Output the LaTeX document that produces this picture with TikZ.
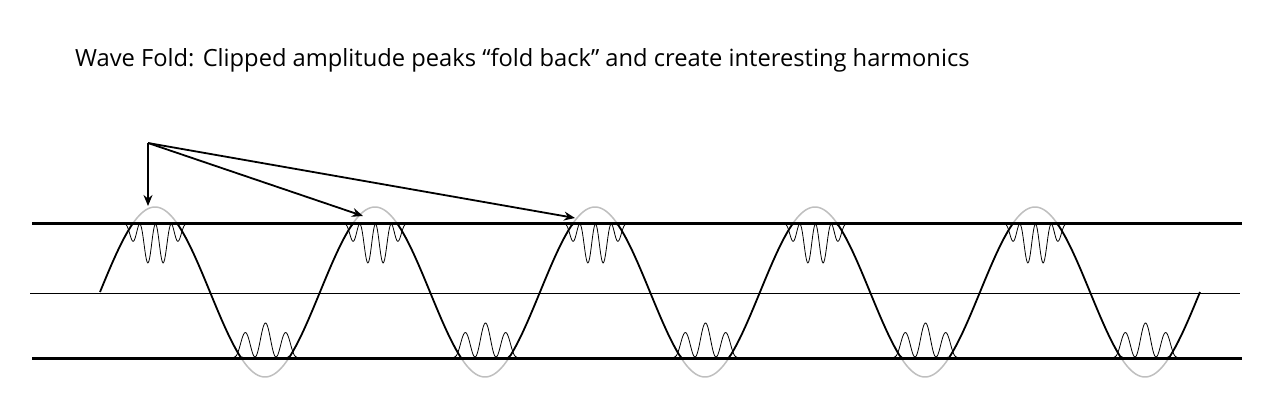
\documentclass[tikz,border=0pt]{standalone}
\usepackage{fontspec}
\setmainfont{Open Sans}
\usetikzlibrary{arrows.meta}
\tikzset{rail/.style={draw, line width=3pt},
  axis/.style={draw, line width=0.8pt},
  ghost/.style={draw, gray!50, line width=1.5pt},
  wave/.style={draw, line width=1.8pt},
  fold/.style={draw, line width=0.8pt},
  line/.style={draw, line width=1.8pt, -{Stealth[length=11pt,width=9pt]}}}
\begin{document}
\begin{tikzpicture}[x=1pt, y=-1pt]
\useasboundingbox (0,0) rectangle (1271,420);

\node [anchor=west, inner sep=0pt, font=\fontsize{23.7}{27}\selectfont](title) at (75,60){Wave Fold: Clipped amplitude peaks “fold back” and create interesting harmonics};

% ghost peaks
\foreach \k in {0,...,4}{
  \draw [ghost] plot [domain=-31:32, samples=30] ({155+220*\k+\x}, {292-85*cos(1.63636*\x)});
  \draw [ghost] plot [domain=-31:32, samples=30] ({265+220*\k+\x}, {292+85*cos(1.63636*\x)});
}

% rails
\draw [rail] (32,223) -- (1242,223);
\draw [rail] (32,358) -- (1242,358);
\draw [axis] (30,293) -- (1240,293);

% clipped wave
\draw [wave] plot [domain=0:1100, samples=400] ({100+\x}, {max(223,min(358,292-85*sin(mod(1.63636*\x,360))))});

% folds
\foreach \k in {0,...,4}{
  \draw [fold] plot [domain=0:1, samples=80] ({124+220*\k+63*\x}, {224+42*sin(180*\x)*sin(720*\x)^2});
  \draw [fold] plot [domain=0:1, samples=80] ({234+220*\k+63*\x}, {357-34*sqrt(abs(sin(180*\x)))*sin(540*\x)^2});
}

% arrows
\coordinate (src) at (148,143);
\coordinate (p1) at (148,206);
\coordinate (p2) at (363,216);
\coordinate (p3) at (575,218);
\draw [line] (src) -- (p1);
\draw [line] (src) -- (p2);
\draw [line] (src) -- (p3);
\end{tikzpicture}
\end{document}
